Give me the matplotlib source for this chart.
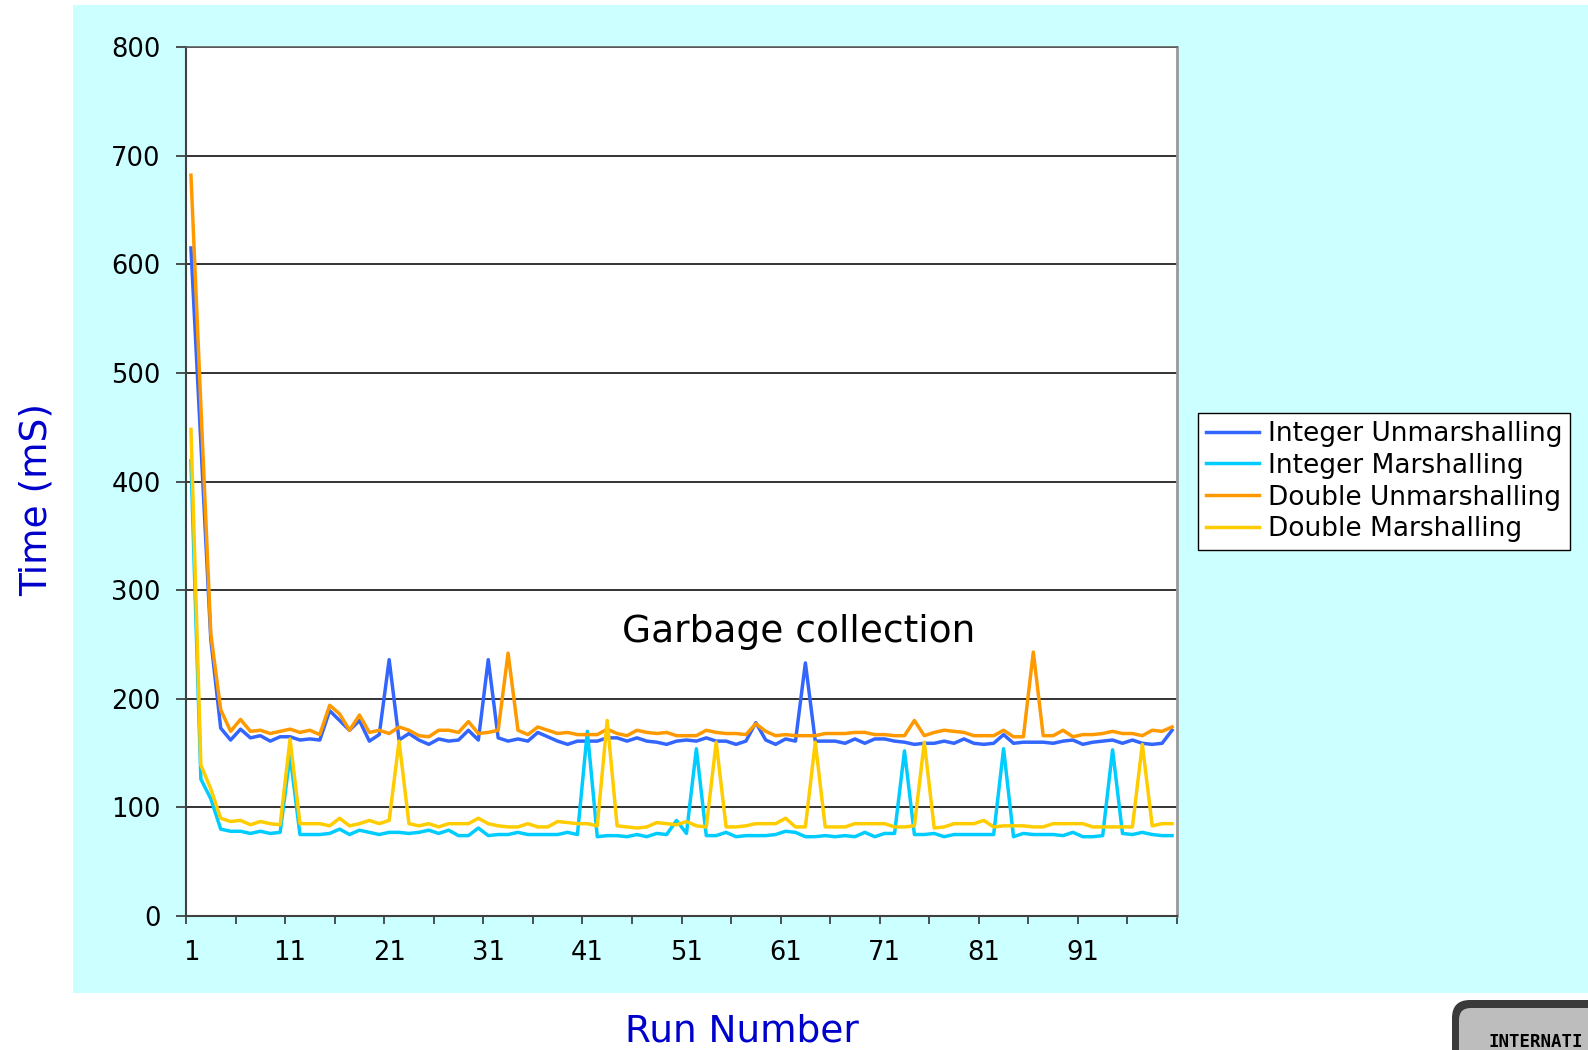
import numpy as np
import matplotlib
matplotlib.use("Agg")
import matplotlib.pyplot as plt
from matplotlib.patches import Rectangle, FancyBboxPatch

# ---------------- data ----------------
runs = list(range(1, 101))
x_tick_labels = ["1", "11", "21", "31", "41", "51", "61", "71", "81", "91"]
y_ticks = [0, 100, 200, 300, 400, 500, 600, 700, 800]
series_names = ["Integer Unmarshalling", "Integer Marshalling",
                "Double Unmarshalling", "Double Marshalling"]

int_unmarshalling = [
    615, 435, 255, 173, 162, 172, 164, 166, 161, 165,
    165, 162, 163, 162, 189, 180, 171, 180, 161, 167,
    236, 162, 168, 162, 158, 163, 161, 162, 171, 162,
    236, 164, 161, 163, 161, 169, 165, 161, 158, 161,
    161, 161, 164, 164, 161, 164, 161, 160, 158, 161,
    162, 161, 164, 161, 161, 158, 161, 178, 162, 158,
    163, 161, 233, 161, 161, 161, 159, 163, 159, 163,
    163, 161, 160, 158, 159, 159, 161, 159, 163, 159,
    158, 159, 167, 159, 160, 160, 160, 159, 161, 162,
    158, 160, 161, 162, 159, 162, 159, 158, 159, 171]

int_marshalling = [
    419, 126, 108, 80, 78, 78, 76, 78, 76, 77,
    148, 75, 75, 75, 76, 80, 75, 79, 77, 75,
    77, 77, 76, 77, 79, 76, 79, 74, 74, 81,
    74, 75, 75, 77, 75, 75, 75, 75, 77, 75,
    170, 73, 74, 74, 73, 75, 73, 76, 75, 88,
    76, 154, 74, 74, 77, 73, 74, 74, 74, 75,
    78, 77, 73, 73, 74, 73, 74, 73, 77, 73,
    76, 76, 152, 75, 75, 76, 73, 75, 75, 75,
    75, 75, 154, 73, 76, 75, 75, 75, 74, 77,
    73, 73, 74, 153, 76, 75, 77, 75, 74, 74]

dbl_unmarshalling = [
    682, 470, 260, 190, 170, 181, 170, 171, 168, 170,
    172, 169, 171, 167, 194, 186, 171, 185, 169, 171,
    168, 174, 171, 166, 165, 171, 171, 169, 179, 168,
    169, 171, 242, 171, 167, 174, 171, 168, 169, 167,
    167, 167, 172, 168, 166, 171, 169, 168, 169, 166,
    166, 166, 171, 169, 168, 168, 167, 177, 170, 166,
    167, 166, 166, 166, 168, 168, 168, 169, 169, 167,
    167, 166, 166, 180, 166, 169, 171, 170, 169, 166,
    166, 166, 171, 165, 165, 243, 166, 166, 171, 165,
    167, 167, 168, 170, 168, 168, 166, 171, 170, 174]

dbl_marshalling = [
    448, 139, 117, 90, 87, 88, 84, 87, 85, 84,
    163, 85, 85, 85, 83, 90, 83, 85, 88, 85,
    88, 161, 85, 83, 85, 82, 85, 85, 85, 90,
    85, 83, 82, 82, 85, 82, 82, 87, 86, 85,
    85, 83, 180, 83, 82, 81, 82, 86, 85, 84,
    87, 83, 82, 160, 82, 82, 83, 85, 85, 85,
    90, 82, 82, 160, 82, 82, 82, 85, 85, 85,
    85, 82, 82, 83, 160, 81, 82, 85, 85, 85,
    88, 82, 83, 83, 83, 82, 82, 85, 85, 85,
    85, 82, 82, 82, 82, 82, 158, 83, 85, 85]

series_values = [int_unmarshalling, int_marshalling, dbl_unmarshalling, dbl_marshalling]
series_colors = ["#3366FF", "#00CCFF", "#FF9900", "#FFCC00"]

# ---------------- figure ----------------
W, H = 1588, 1050
fig = plt.figure(figsize=(W / 100, H / 100), dpi=100)
fig.patch.set_facecolor("white")

# cyan slide background
fig.add_artist(Rectangle((73 / W, 1 - 993 / H), 1 - 73 / W, (993 - 5) / H,
                         transform=fig.transFigure, facecolor="#CCFFFF",
                         edgecolor="none", zorder=-10))

ax = fig.add_axes([186 / W, 1 - 916 / H, (1177 - 186) / W, (916 - 47) / H])
ax.set_facecolor("white")

for name, vals, col in zip(series_names, series_values, series_colors):
    ax.plot(runs, vals, color=col, lw=2.5, label=name, solid_joinstyle="round")

ax.set_xlim(0.5, 100.5)
ax.set_ylim(0, 800)

# y axis
ax.set_yticks(y_ticks)
ax.set_yticklabels([str(v) for v in y_ticks])
ax.yaxis.grid(True, color="#111111", lw=1.2)
ax.set_axisbelow(True)
ax.tick_params(axis="y", which="major", direction="out", length=7.2, width=1.2,
               color="#333333", pad=11, labelsize=18.5, labelcolor="black")

# x axis: tick marks between categories every 5, labels every 10
ax.set_xticks(np.arange(0.5, 101, 5))
ax.set_xticklabels([])
label_pos = [int(s) for s in x_tick_labels]
ax.set_xticks(label_pos, minor=True)
ax.set_xticklabels(x_tick_labels, minor=True)
ax.tick_params(axis="x", which="major", direction="out", length=6, width=1.2,
               color="#333333")
ax.tick_params(axis="x", which="minor", length=0, pad=17, labelsize=18.5,
               labelcolor="black")

for s in ["left", "bottom"]:
    ax.spines[s].set_color("#404040")
    ax.spines[s].set_linewidth(1.5)
ax.spines["top"].set_color("#606060")
ax.spines["top"].set_linewidth(1.2)
ax.spines["right"].set_color("#999999")
ax.spines["right"].set_linewidth(2)

for lab in ax.get_xticklabels(minor=True) + ax.get_yticklabels():
    lab.set_fontfamily("DejaVu Sans")

# legend
leg = ax.legend(loc="upper left", bbox_to_anchor=(1198 / W, 1 - 413 / H),
                bbox_transform=fig.transFigure, frameon=True, fancybox=False,
                edgecolor="black", framealpha=1, borderaxespad=0,
                prop={"family": "DejaVu Sans", "size": 19},
                handlelength=2.0, handletextpad=0.35, labelspacing=0.22,
                borderpad=0.3)
leg.get_frame().set_linewidth(1.0)
leg.get_frame().set_facecolor("white")

# axis titles and annotation
fig.text(37 / W, 1 - 499 / H, "Time (mS)", rotation=90, ha="center", va="center",
         fontsize=27, color="#0000CC", family="DejaVu Sans")
fig.text(742 / W, 1 - 1042 / H, "Run Number", ha="center", va="baseline",
         fontsize=27, color="#0000CC", family="DejaVu Sans")
fig.text(622 / W, 1 - 642 / H, "Garbage collection", ha="left", va="baseline",
         fontsize=27, color="black", family="DejaVu Sans")

# logo fragment at bottom right
lax = fig.add_axes([1440 / W, 0, (W - 1440) / W, (H - 993) / H])
lax.set_xlim(1440, W)
lax.set_ylim(H, 993)
lax.axis("off")
lax.add_patch(FancyBboxPatch((1452, 1000), 220, 120,
                             boxstyle="round,pad=0,rounding_size=18",
                             facecolor="#3a3a3a", edgecolor="none"))
lax.add_patch(FancyBboxPatch((1459, 1008), 220, 120,
                             boxstyle="round,pad=0,rounding_size=12",
                             facecolor="#bdbdbd", edgecolor="none"))
lax.text(1488, 1047, "INTERNATI", ha="left", va="baseline", fontsize=12.5,
         fontweight="bold", family="DejaVu Sans Mono", color="black")

fig.savefig("out.png", dpi=100, facecolor="white")
